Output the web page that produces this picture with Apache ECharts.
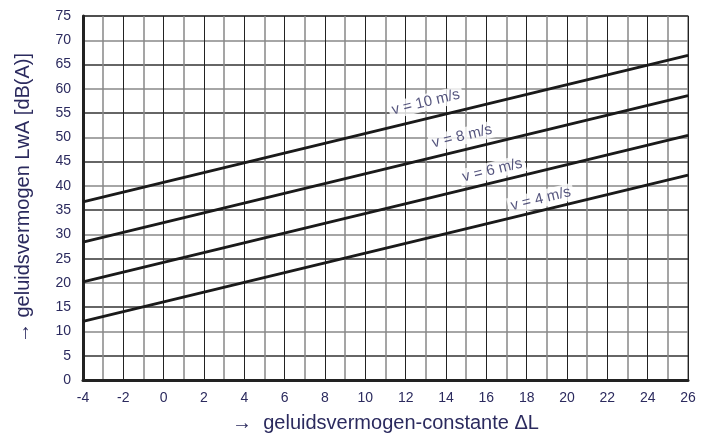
<!DOCTYPE html>
<html><head><meta charset="utf-8">
<script src="https://cdn.jsdelivr.net/npm/echarts@6/dist/echarts.min.js"></script>
<style>html,body{margin:0;padding:0;background:#fff}#c{width:702px;height:434px}</style>
</head><body><div id="c"></div>
<script>
const xRange = [-4, 26];
const speeds = ['v = 4 m/s', 'v = 6 m/s', 'v = 8 m/s', 'v = 10 m/s'];
const startValues = [12.1, 20.2, 28.4, 36.7];   // LwA at ΔL = -4
const endValues = [42.2, 50.4, 58.6, 66.9];     // LwA at ΔL = 26
const labelX = [18.7, 16.3, 14.8, 13.0];
const labelY = [37.3, 43.2, 50.2, 57.2];
const txt = '#2b2a5e';
const font = 'Liberation Sans, Arial';
const chart = echarts.init(document.getElementById('c'));
const series = speeds.map((s, i) => ({
  type: 'line', name: s, symbol: 'none', silent: true,
  lineStyle: {color: '#1a1a1a', width: 2.8},
  data: [[xRange[0], startValues[i]], [xRange[1], endValues[i]]]
}));
series.push({
  type: 'scatter', symbolSize: 0, silent: true, z: 5,
  data: speeds.map((s, i) => ({value: [labelX[i], labelY[i]], name: s})),
  label: {show: true, formatter: p => p.name, rotate: 13.5, color: txt,
    fontFamily: font, fontSize: 15, backgroundColor: '#fff', padding: [1, 3],
    position: 'inside'}
});
chart.setOption({
  animation: false,
  grid: {left: 83, right: 14, top: 16, bottom: 54, show: true, borderColor: '#888', borderWidth: 1.5,
    containLabel: false, outerBoundsMode: 'none'},
  xAxis: {type: 'value', min: -4, max: 26, interval: 2,
    name: '→  geluidsvermogen-constante ΔL', nameLocation: 'middle', nameGap: 33,
    nameTextStyle: {color: txt, fontSize: 20, fontFamily: font},
    axisLine: {onZero: false, lineStyle: {color: '#222', width: 3}}, axisTick: {show: false},
    axisLabel: {color: txt, fontSize: 14, fontFamily: font, margin: 11},
    splitLine: {show: true, lineStyle: {color: '#222', width: 1}},
    minorTick: {show: false, splitNumber: 2},
    minorSplitLine: {show: true, lineStyle: {color: '#888', width: 1.5}}
  },
  yAxis: {type: 'value', min: 0, max: 75, interval: 5,
    name: '→ geluidsvermogen LwA [dB(A)]', nameLocation: 'middle', nameGap: 50, nameRotate: 90,
    nameTextStyle: {color: txt, fontSize: 20, fontFamily: font},
    axisLine: {show: true, onZero: false, lineStyle: {color: '#222', width: 3}}, axisTick: {show: false},
    axisLabel: {color: txt, fontSize: 14, fontFamily: font, margin: 12},
    splitLine: {show: true, lineStyle: {color: ['#888', '#333'], width: 1.5}}
  },
  series: series
});
</script></body></html>
